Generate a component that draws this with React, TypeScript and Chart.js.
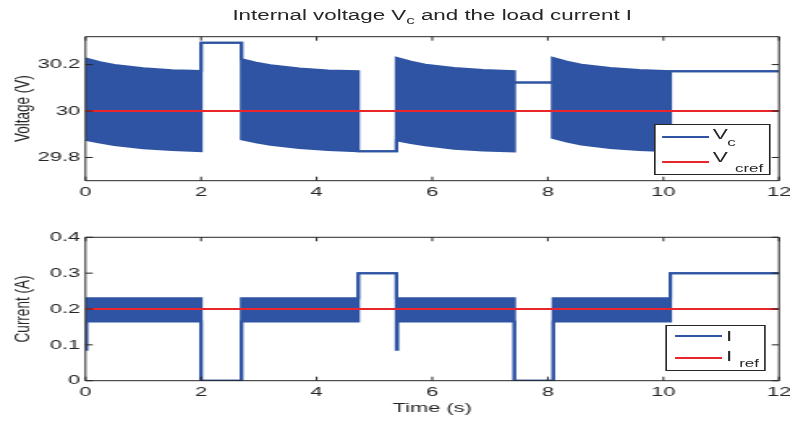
import React, { useEffect, useRef } from "react";
import { Chart, registerables } from "chart.js";

Chart.register(...registerables);

// ---------------- data ----------------
const timeTicks = [0, 2, 4, 6, 8, 10, 12];
const voltageTicks = [29.8, 30, 30.2];
const currentTicks = [0, 0.1, 0.2, 0.3, 0.4];
const timeLimits = [0, 12];
const voltageLimits = [29.7, 30.32];
const currentLimits = [0, 0.4];

// Internal voltage Vc: upper / lower envelope of the fast switching ripple
const vcTime = [0, 0.25, 0.5, 1.0, 1.5, 2.0, 2.0, 2.7, 2.7, 2.95, 3.2, 3.7, 4.2, 4.72, 4.72, 5.38, 5.38, 5.63, 5.88, 6.38, 6.88, 7.42, 7.42, 8.08, 8.08, 8.33, 8.58, 9.08, 9.58, 10.12, 10.12, 12];
const vcUpper = [30.227, 30.21, 30.198, 30.184, 30.176, 30.172, 30.294, 30.294, 30.223, 30.208, 30.197, 30.183, 30.175, 30.171, 29.827, 29.827, 30.229, 30.212, 30.199, 30.185, 30.177, 30.172, 30.123, 30.123, 30.229, 30.212, 30.199, 30.185, 30.177, 30.172, 30.171, 30.171];
const vcLower = [29.876, 29.864, 29.854, 29.84, 29.832, 29.827, 30.294, 30.294, 29.878, 29.865, 29.855, 29.841, 29.832, 29.827, 29.827, 29.827, 29.874, 29.862, 29.852, 29.838, 29.83, 29.826, 30.123, 30.123, 29.885, 29.868, 29.856, 29.841, 29.832, 29.827, 30.171, 30.171];

// Load current I: upper / lower envelope
const iTime = [0, 0.02, 0.02, 2.0, 2.0, 2.7, 2.7, 4.72, 4.72, 5.38, 5.38, 5.4, 5.4, 7.42, 7.42, 8.08, 8.08, 8.1, 8.1, 10.12, 10.12, 12];
const iUpper = [0.23, 0.23, 0.23, 0.23, 0, 0, 0.23, 0.23, 0.3, 0.3, 0.23, 0.23, 0.23, 0.23, 0, 0, 0.23, 0.23, 0.23, 0.23, 0.3, 0.3];
const iLower = [0.086, 0.086, 0.165, 0.165, 0, 0, 0.165, 0.165, 0.3, 0.3, 0.086, 0.086, 0.165, 0.165, 0, 0, 0.13, 0.13, 0.165, 0.165, 0.3, 0.3];

// references
const refTime = [0, 12];
const vcRef = [30, 30];
const iRef = [0.2, 0.2];

// ---------------- look ----------------
const FIG_W = 488; // figure width before the horizontal stretch
const STRETCH = 790 / FIG_W;
const PLOT_LEFT = 52.8;
const PLOT_RIGHT = 481.2;

const BLUE = "#2f54a3";
const RED = "#e8262c";
const INK = "#262626";
const FONT = "'Liberation Sans', Arial, Helvetica, sans-serif";
const FS = 13.5;

const zip = (xs: number[], ys: number[]) => xs.map((x, i) => ({ x, y: ys[i] }));

const boxTicksPlugin = {
  id: "boxTicks",
  afterDatasetsDraw(chart: any) {
    const { ctx, chartArea } = chart;
    const { left, right, top, bottom } = chartArea;
    const xs = chart.scales.x;
    const ys = chart.scales.y;
    ctx.save();
    ctx.strokeStyle = INK;
    ctx.lineWidth = 1;
    ctx.beginPath();
    ctx.rect(left, top, right - left, bottom - top);
    ctx.stroke();
    ctx.beginPath();
    xs.ticks.forEach((t: any) => {
      const px = xs.getPixelForValue(t.value);
      ctx.moveTo(px, bottom);
      ctx.lineTo(px, bottom - 4);
      ctx.moveTo(px, top);
      ctx.lineTo(px, top + 4);
    });
    ys.ticks.forEach((t: any) => {
      const py = ys.getPixelForValue(t.value);
      ctx.moveTo(left, py);
      ctx.lineTo(left + 4.5, py);
      ctx.moveTo(right, py);
      ctx.lineTo(right - 4.5, py);
    });
    ctx.stroke();
    ctx.restore();
  },
};

type PanelProps = {
  top: number;
  height: number;
  plotTop: number;
  plotBottom: number;
  times: number[];
  upper: number[];
  lower: number[];
  refValues: number[];
  yLimits: number[];
  yTicks: number[];
  yTitle: string;
  xTitle?: string;
  xTickPad: number;
};

function Panel(p: PanelProps) {
  const canvasRef = useRef<HTMLCanvasElement>(null);
  useEffect(() => {
    const font = { family: FONT, size: FS };
    const chart = new Chart(canvasRef.current as HTMLCanvasElement, {
      type: "line",
      data: {
        datasets: [
          {
            label: "ref",
            data: zip(refTime, p.refValues),
            borderColor: RED,
            borderWidth: 2,
            pointRadius: 0,
            fill: false,
            order: 0,
          },
          {
            label: "upper",
            data: zip(p.times, p.upper),
            borderColor: BLUE,
            backgroundColor: BLUE,
            borderWidth: 2,
            pointRadius: 0,
            fill: "+1",
            order: 1,
          },
          {
            label: "lower",
            data: zip(p.times, p.lower),
            borderColor: BLUE,
            borderWidth: 2,
            pointRadius: 0,
            fill: false,
            order: 2,
          },
        ],
      } as any,
      options: {
        animation: false,
        responsive: false,
        maintainAspectRatio: false,
        events: [],
        layout: { padding: { left: 0, right: FIG_W - PLOT_RIGHT, top: p.plotTop, bottom: 0 } },
        plugins: { legend: { display: false }, tooltip: { enabled: false }, title: { display: false } },
        scales: {
          x: {
            type: "linear",
            min: timeLimits[0],
            max: timeLimits[1],
            afterBuildTicks: (s: any) => {
              s.ticks = timeTicks.map((v) => ({ value: v }));
            },
            afterFit: (s: any) => {
              s.height = p.height - p.plotBottom;
              s.paddingLeft = 0;
              s.paddingRight = 0;
              s.paddingTop = 0;
              s.paddingBottom = 0;
            },
            grid: { display: false, drawTicks: false },
            border: { display: false },
            ticks: {
              color: INK,
              font,
              padding: p.xTickPad,
              maxRotation: 0,
              autoSkip: false,
              callback: (v: any) => String(v),
            },
            title: {
              display: !!p.xTitle,
              text: p.xTitle || "",
              color: INK,
              font,
              padding: { top: 0, bottom: 4.9 },
            },
          },
          y: {
            type: "linear",
            min: p.yLimits[0],
            max: p.yLimits[1],
            afterBuildTicks: (s: any) => {
              s.ticks = p.yTicks.map((v) => ({ value: v }));
            },
            afterFit: (s: any) => {
              s.width = PLOT_LEFT;
              s.paddingLeft = 0;
              s.paddingRight = 0;
              s.paddingTop = 0;
              s.paddingBottom = 0;
            },
            grid: { display: false, drawTicks: false },
            border: { display: false },
            ticks: {
              color: INK,
              font,
              padding: 3.4,
              autoSkip: false,
              callback: (v: any) => String(v),
            },
            title: {
              display: true,
              text: p.yTitle,
              color: INK,
              font,
              padding: { top: 6.5, bottom: 0 },
            },
          },
        },
      } as any,
      plugins: [boxTicksPlugin],
    });
    return () => chart.destroy();
  }, []);
  return (
    <canvas
      ref={canvasRef}
      width={FIG_W}
      height={p.height}
      style={{ position: "absolute", left: 0, top: p.top, width: FIG_W, height: p.height, display: "block" }}
    />
  );
}

function Txt(props: { x: number; y: number; size: number; children: React.ReactNode }) {
  const { x, y, size, children } = props;
  return (
    <div
      style={{
        position: "absolute",
        left: x,
        top: y - size * 0.9465,
        fontSize: size,
        lineHeight: `${size * 1.2}px`,
        fontFamily: FONT,
        color: INK,
        whiteSpace: "nowrap",
      }}
    >
      {children}
    </div>
  );
}

function LegendLine(props: { x1: number; x2: number; y: number; color: string }) {
  const { x1, x2, y, color } = props;
  return (
    <div style={{ position: "absolute", left: x1, top: y - 1, width: x2 - x1, height: 2, background: color }} />
  );
}

function Box(props: { x: number; y: number; w: number; h: number }) {
  const { x, y, w, h } = props;
  return (
    <div
      style={{
        position: "absolute",
        left: x,
        top: y,
        width: w,
        height: h,
        boxSizing: "border-box",
        border: `1px solid ${INK}`,
        background: "#ffffff",
      }}
    />
  );
}

export default function App() {
  return (
    <div
      style={{
        position: "fixed",
        left: 0,
        top: 0,
        width: FIG_W,
        height: 421,
        background: "#ffffff",
        transform: `scaleX(${STRETCH})`,
        transformOrigin: "0 0",
        overflow: "hidden",
      }}
    >
      <Panel
        top={0}
        height={210}
        plotTop={36.7}
        plotBottom={180.7}
        times={vcTime}
        upper={vcUpper}
        lower={vcLower}
        refValues={vcRef}
        yLimits={voltageLimits}
        yTicks={voltageTicks}
        yTitle="Voltage (V)"
        xTickPad={3.8}
      />
      <Panel
        top={210}
        height={211}
        plotTop={27.3}
        plotBottom={170.7}
        times={iTime}
        upper={iUpper}
        lower={iLower}
        refValues={iRef}
        yLimits={currentLimits}
        yTicks={currentTicks}
        yTitle="Current (A)"
        xTitle="Time (s)"
        xTickPad={3}
      />

      {/* title */}
      <div
        style={{
          position: "absolute",
          left: PLOT_LEFT,
          width: PLOT_RIGHT - PLOT_LEFT,
          top: 20.7 - 13.8 * 0.9465,
          fontSize: 13.8,
          lineHeight: `${13.8 * 1.2}px`,
          fontFamily: FONT,
          color: INK,
          textAlign: "center",
          whiteSpace: "nowrap",
        }}
      >
        Internal voltage V
        <span style={{ fontSize: 10.5, position: "relative", top: 4.3 }}>c</span> and the load current I
      </div>

      {/* voltage legend */}
      <Box x={403.5} y={124} w={72.5} h={51} />
      <LegendLine x1={409.3} x2={438.1} y={137.3} color={BLUE} />
      <LegendLine x1={409.3} x2={438.1} y={161.7} color={RED} />
      <Txt x={440.3} y={139.3} size={14}>V</Txt>
      <Txt x={449.2} y={146} size={10.5}>c</Txt>
      <Txt x={440.3} y={162.7} size={14}>V</Txt>
      <Txt x={454} y={171.7} size={10.5}>cref</Txt>

      {/* current legend */}
      <Box x={410.7} y={325} w={62.4} h={46} />
      <LegendLine x1={416.9} x2={445.8} y={336} color={BLUE} />
      <LegendLine x1={416.9} x2={445.8} y={358.3} color={RED} />
      <Txt x={448.5} y={341.7} size={14}>I</Txt>
      <Txt x={448.5} y={361.7} size={14}>I</Txt>
      <Txt x={456.6} y={366.7} size={10.5}>ref</Txt>
    </div>
  );
}
